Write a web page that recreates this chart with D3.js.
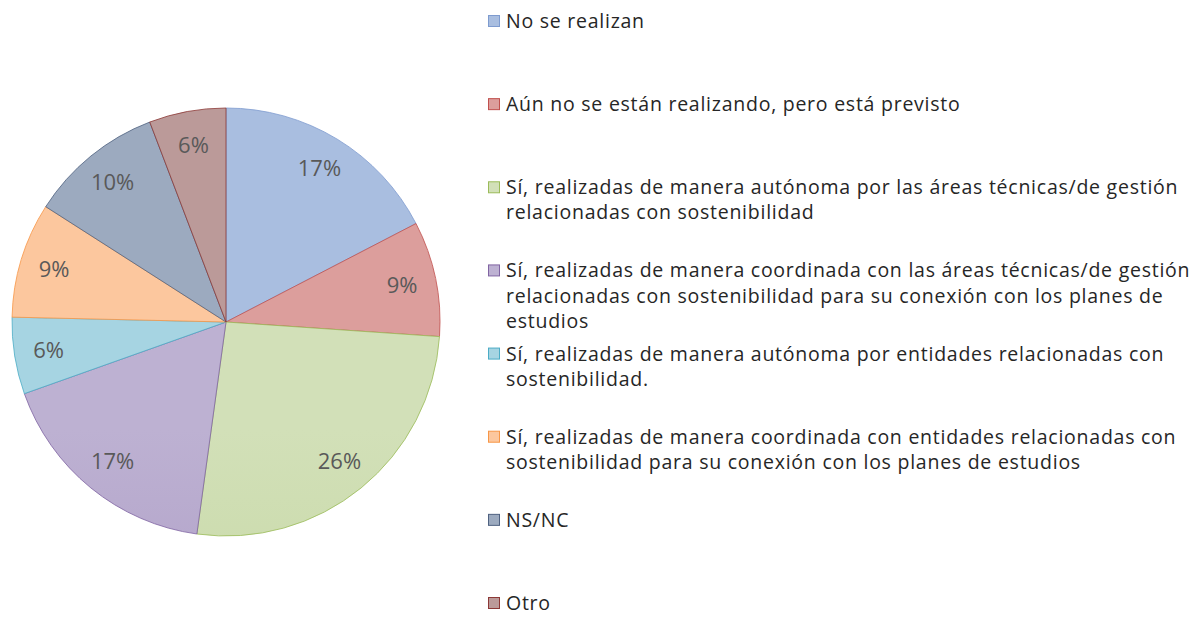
<!DOCTYPE html>
<html>
<head>
<meta charset="utf-8">
<script src="https://cdn.jsdelivr.net/npm/d3@7"></script>
<style>
  body { margin: 0; background: #fff; }
  text { font-family: "Open Sans", Roboto, sans-serif; }
</style>
</head>
<body>
<div id="chart"></div>
<script>
// categories (legend lines, already wrapped like the original)
const categories = [
    ["No se realizan"],
    ["Aún no se están realizando, pero está previsto"],
    ["Sí, realizadas de manera autónoma por las áreas técnicas/de gestión", "relacionadas con sostenibilidad"],
    ["Sí, realizadas de manera coordinada con las áreas técnicas/de gestión", "relacionadas con sostenibilidad para su conexión con los planes de", "estudios"],
    ["Sí, realizadas de manera autónoma por entidades relacionadas con", "sostenibilidad."],
    ["Sí, realizadas de manera coordinada con entidades relacionadas con", "sostenibilidad para su conexión con los planes de estudios"],
    ["NS/NC"],
    ["Otro"]
];
// answers per category
const values = [12, 6, 18, 12, 4, 6, 7, 4];
const topColors = ["#a9bee0", "#dc9e9c", "#d2e0b8", "#bdb1d2", "#a6d4e2", "#fcc79e", "#9caabf", "#bb9a99"];
const bottomColors = ["#8ca6d6", "#d38684", "#bfd399", "#a592bf", "#8ec8d9", "#f8ad7e", "#7d8da8", "#a5807f"];
const strokeColors = ["#7e9bcf", "#c0504d", "#9bbb59", "#8064a2", "#4bacc6", "#f79646", "#4f6180", "#8c3836"];

const width = 1194, height = 617;
const cx = 226, cy = 322, R = 214;

const svg = d3.select("#chart").append("svg")
    .attr("width", width)
    .attr("height", height);

const defs = svg.append("defs");
values.forEach((v, i) => {
    const g = defs.append("linearGradient")
        .attr("id", "grad" + i)
        .attr("gradientUnits", "userSpaceOnUse")
        .attr("x1", 0).attr("y1", cy - R)
        .attr("x2", 0).attr("y2", cy + R);
    g.append("stop").attr("offset", "0%").attr("stop-color", topColors[i]);
    g.append("stop").attr("offset", "100%").attr("stop-color", bottomColors[i]);
});

const total = d3.sum(values);
const pie = d3.pie().sort(null).value(d => d);
const arcs = pie(values);
const arc = d3.arc().innerRadius(0).outerRadius(R);
const labelArc = d3.arc().innerRadius(R * 0.84).outerRadius(R * 0.84);

const g = svg.append("g").attr("transform", `translate(${cx},${cy})`);

g.selectAll("path")
    .data(arcs)
    .enter().append("path")
    .attr("d", arc)
    .attr("fill", (d, i) => `url(#grad${i})`)
    .attr("stroke", (d, i) => strokeColors[i])
    .attr("stroke-width", 1)
    .attr("stroke-opacity", 0.8);

g.selectAll(".pct")
    .data(arcs)
    .enter().append("text")
    .attr("class", "pct")
    .attr("transform", d => `translate(${labelArc.centroid(d)})`)
    .attr("text-anchor", "middle")
    .attr("dy", "0.35em")
    .attr("font-size", 22)
    .attr("fill", "#595959")
    .text(d => d3.format(".0%")(d.value / total));

// legend
const legendY = d3.scalePoint()
    .domain(d3.range(categories.length))
    .range([21, 603]);

const legend = svg.selectAll(".legend")
    .data(categories)
    .enter().append("g")
    .attr("class", "legend")
    .attr("transform", (d, i) => `translate(488,${legendY(i)})`);

legend.append("rect")
    .attr("x", 0.5).attr("y", -5.5)
    .attr("width", 11).attr("height", 11)
    .attr("fill", (d, i) => topColors[i])
    .attr("stroke", (d, i) => strokeColors[i])
    .attr("stroke-width", 1);

legend.each(function(lines) {
    const t = d3.select(this).append("text")
        .attr("x", 18)
        .attr("y", 7)
        .attr("font-size", 19.5)
        .attr("letter-spacing", 0.75)
        .attr("fill", "#262626");
    lines.forEach((line, j) => {
        t.append("tspan")
            .attr("x", 18)
            .attr("dy", j === 0 ? 0 : 25.2)
            .text(line);
    });
});
</script>
</body>
</html>
